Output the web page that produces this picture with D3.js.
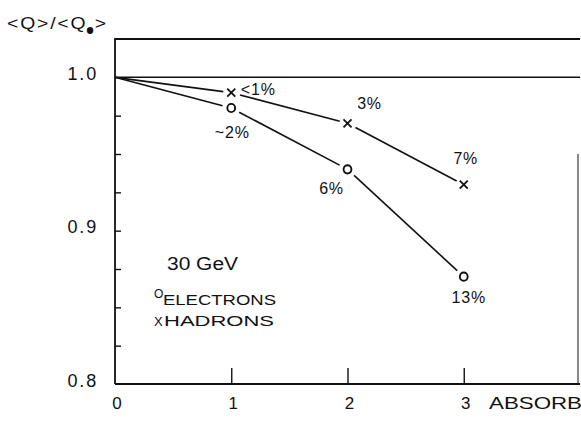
<!DOCTYPE html>
<html>
<head>
<meta charset="utf-8">
<script src="https://cdn.jsdelivr.net/npm/d3@7"></script>
<style>
  html, body { margin: 0; padding: 0; background: #fff; }
  svg text { font-family: "Liberation Sans", Arial, sans-serif; fill: #111; }
</style>
</head>
<body>
<svg id="chart" width="581" height="429"></svg>
<script>
// Absorber thickness (x) and relative charge <Q>/<Q0>
const absorber = [0, 1, 2, 3];
const electrons = [1.0, 0.98, 0.94, 0.87];
const hadrons = [1.0, 0.99, 0.97, 0.93];
const electronLabels = ["", "~2%", "6%", "13%"];
const hadronLabels = ["", "<1%", "3%", "7%"];
const xTickValues = [0, 1, 2, 3];
const yTickLabels = [0.8, 0.9, 1.0];
const yMinorTicks = [0.825, 0.85, 0.875, 0.9, 0.925, 0.95, 0.975];

const svg = d3.select("#chart");
const plotLeft = 115, plotRight = 580, plotTop = 39, plotBottom = 384;

const x = d3.scaleLinear().domain([0, 4]).range([plotLeft, plotRight]);
const y = d3.scaleLinear().domain([0.8, 1.025]).range([plotBottom, plotTop]);

const ink = "#111";

// frame
svg.append("path")
  .attr("d", `M${plotLeft},${plotBottom}V${plotTop}H${plotRight}`)
  .attr("fill", "none").attr("stroke", ink).attr("stroke-width", 1.8);
svg.append("line")
  .attr("x1", plotLeft).attr("x2", plotRight).attr("y1", plotBottom).attr("y2", plotBottom)
  .attr("stroke", ink).attr("stroke-width", 1.8);
svg.append("line")
  .attr("x1", plotRight - 2).attr("x2", plotRight - 2).attr("y1", y(0.95)).attr("y2", plotBottom)
  .attr("stroke", ink).attr("stroke-width", 1);

// reference line at 1.0
svg.append("line")
  .attr("x1", plotLeft).attr("x2", plotRight).attr("y1", y(1)).attr("y2", y(1))
  .attr("stroke", ink).attr("stroke-width", 1.5);

// y axis ticks (inward) and labels
const yAxis = d3.axisRight(y).tickValues(yMinorTicks).tickSize(6).tickFormat("");
const yg = svg.append("g").attr("transform", `translate(${plotLeft},0)`).call(yAxis);
yg.select(".domain").remove();
yg.selectAll(".tick line").attr("stroke", ink).attr("stroke-width", 1.4);

svg.selectAll(".ylab").data(yTickLabels).join("text")
  .attr("class", "ylab")
  .attr("x", 98).attr("y", d => y(d) - 2)
  .attr("text-anchor", "end").attr("dominant-baseline", "middle")
  .attr("font-size", 18).attr("letter-spacing", 1.8)
  .text(d => d.toFixed(1));

// x axis ticks (inward) and labels
const xAxis = d3.axisTop(x).tickValues(xTickValues.filter(d => d > 0)).tickSize(16).tickFormat("");
const xg = svg.append("g").attr("transform", `translate(0,${plotBottom})`).call(xAxis);
xg.select(".domain").remove();
xg.selectAll(".tick line").attr("stroke", ink).attr("stroke-width", 1.4);

svg.selectAll(".xlab").data(xTickValues).join("text")
  .attr("class", "xlab")
  .attr("x", d => x(d) + 2).attr("y", 409)
  .attr("text-anchor", "middle")
  .attr("font-size", 17)
  .text(d => d);

svg.append("text")
  .attr("x", 489).attr("y", 409)
  .attr("font-size", 17).attr("textLength", 124).attr("lengthAdjust", "spacingAndGlyphs")
  .text("ABSORBER");

// y axis title <Q>/<Q0>
const title = svg.append("text")
  .attr("transform", "translate(7,29) scale(1.14,1)")
  .attr("font-size", 17).attr("letter-spacing", 1.6);
title.append("tspan").text("<Q>/<Q");
title.append("tspan").attr("dy", 4).attr("font-size", 8).attr("font-weight", "bold")
  .attr("letter-spacing", 0)
  .attr("stroke", ink).attr("stroke-width", 1.8).text("0");
title.append("tspan").attr("dy", -4).attr("dx", 2).text(">");

// connecting segments, with small gaps around the markers
function drawSeries(values, gapStart, gapEnd) {
  const pts = absorber.map((a, i) => [x(a), y(values[i])]);
  for (let i = 0; i < pts.length - 1; i++) {
    const [x0, y0] = pts[i], [x1, y1] = pts[i + 1];
    const len = Math.hypot(x1 - x0, y1 - y0);
    const ux = (x1 - x0) / len, uy = (y1 - y0) / len;
    const g0 = i === 0 ? 0 : gapStart, g1 = gapEnd;
    svg.append("line")
      .attr("x1", x0 + ux * g0).attr("y1", y0 + uy * g0)
      .attr("x2", x1 - ux * g1).attr("y2", y1 - uy * g1)
      .attr("stroke", ink).attr("stroke-width", 1.6);
  }
}
drawSeries(electrons, 9, 9);
drawSeries(hadrons, 9, 8);

// markers: small open circles for electrons, crosses for hadrons
svg.selectAll(".emk").data(absorber.slice(1)).join("ellipse")
  .attr("class", "emk")
  .attr("cx", d => x(d)).attr("cy", (d, i) => y(electrons[i + 1]))
  .attr("rx", 3.9).attr("ry", 4.1)
  .attr("fill", "none").attr("stroke", ink).attr("stroke-width", 1.9);
svg.selectAll(".hmk").data(absorber.slice(1)).join("path")
  .attr("class", "hmk")
  .attr("d", (d, i) => {
    const cx = x(d), cy = y(hadrons[i + 1]), r = 4;
    return `M${cx - r},${cy - r}L${cx + r},${cy + r}M${cx + r},${cy - r}L${cx - r},${cy + r}`;
  })
  .attr("fill", "none").attr("stroke", ink).attr("stroke-width", 1.8);

// percentage labels
const eOffsets = [null, [1, 24], [-16, 19], [5, 21]];
const hOffsets = [null, [27, -3], [22, -20], [2, -26]];
absorber.forEach((a, i) => {
  if (!electronLabels[i]) return;
  svg.append("text")
    .attr("x", x(a) + eOffsets[i][0]).attr("y", y(electrons[i]) + eOffsets[i][1])
    .attr("text-anchor", "middle").attr("dominant-baseline", "central")
    .attr("font-size", 16).attr("letter-spacing", 0.8).text(electronLabels[i]);
  svg.append("text")
    .attr("x", x(a) + hOffsets[i][0]).attr("y", y(hadrons[i]) + hOffsets[i][1])
    .attr("text-anchor", "middle").attr("dominant-baseline", "central")
    .attr("font-size", 16).attr("letter-spacing", 0.8).text(hadronLabels[i]);
});

// legend
svg.append("text").attr("x", 167).attr("y", 270)
  .attr("font-size", 18).attr("textLength", 71).attr("lengthAdjust", "spacingAndGlyphs").text("30 GeV");
svg.append("text").attr("x", 154).attr("y", 298).attr("font-size", 12).text("O");
svg.append("text").attr("x", 163).attr("y", 305)
  .attr("font-size", 15).attr("textLength", 113).attr("lengthAdjust", "spacingAndGlyphs").text("ELECTRONS");
svg.append("text").attr("x", 154).attr("y", 326).attr("font-size", 13).text("X");
svg.append("text").attr("x", 164).attr("y", 326)
  .attr("font-size", 15).attr("textLength", 110).attr("lengthAdjust", "spacingAndGlyphs").text("HADRONS");
</script>
</body>
</html>
